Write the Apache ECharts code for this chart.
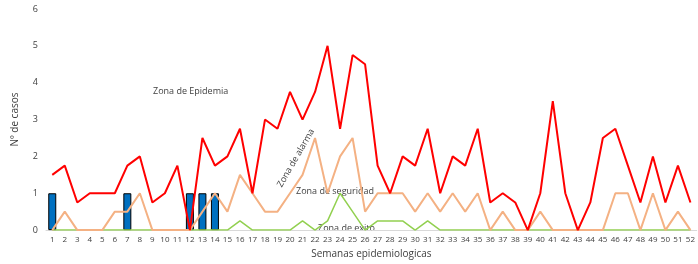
<!DOCTYPE html>
<html>
<head>
<meta charset="utf-8">
<script src="https://cdn.jsdelivr.net/npm/echarts@6/dist/echarts.min.js"></script>
<style>
  html, body { margin: 0; padding: 0; background: #fff; }
  #chart { width: 698px; height: 264px; }
</style>
</head>
<body>
<div id="chart"></div>
<script>
const weeks = Array.from({ length: 52 }, (_, i) => String(i + 1));

const casos = [1, null, null, null, null, null, 1, null, null, null, null, 1, 1, 1];

const epidemia = [1.5, 1.75, 0.75, 1, 1, 1, 1.75, 2, 0.75, 1, 1.75, 0, 2.5, 1.75, 2, 2.75,
  1, 3, 2.75, 3.75, 3, 3.75, 5, 2.75, 4.75, 4.5, 1.75, 1, 2, 1.75, 2.75, 1, 2, 1.75, 2.75,
  0.75, 1, 0.75, 0, 1, 3.5, 1, 0, 0.75, 2.5, 2.75, 1.75, 0.75, 2, 0.75, 1.75, 0.75];

const alarma = [0, 0.5, 0, 0, 0, 0.5, 0.5, 1, 0, 0, 0, 0, 0.5, 1, 0.5, 1.5, 1, 0.5, 0.5, 1,
  1.5, 2.5, 1, 2, 2.5, 0.5, 1, 1, 1, 0.5, 1, 0.5, 1, 0.5, 1, 0, 0.5, 0, 0, 0.5, 0, 0, 0, 0,
  0, 1, 1, 0, 1, 0, 0.5, 0];

const seguridad = [0, 0, 0, 0, 0, 0, 0, 0, 0, 0, 0, 0, 0, 0, 0, 0.25, 0, 0, 0, 0, 0.25, 0,
  0.25, 1, 0.5, 0, 0.25, 0.25, 0.25, 0, 0.25, 0, 0, 0, 0, 0, 0, 0, 0, 0, 0, 0, 0, 0, 0, 0,
  0, 0, 0, 0, 0, 0];

const yTicks = [0, 1, 2, 3, 4, 5, 6];

const font = 'Open Sans, sans-serif';
const txt = '#404040';

const chart = echarts.init(document.getElementById('chart'));

chart.setOption({
  animation: false,
  grid: { left: 46, right: -1, top: 9, bottom: 29, containLabel: false },
  xAxis: {
    type: 'category',
    data: weeks,
    name: 'Semanas epidemiologicas',
    nameLocation: 'middle',
    nameGap: 17,
    nameTextStyle: { color: txt, fontSize: 10, fontFamily: font },
    axisLine: { lineStyle: { color: '#d9d9d9' } },
    axisTick: { show: false },
    axisLabel: { color: txt, fontSize: 8, fontFamily: font, interval: 0, margin: 6 },
  },
  yAxis: {
    type: 'value',
    min: yTicks[0],
    max: yTicks[yTicks.length - 1],
    interval: 1,
    name: 'Nº de casos',
    nameLocation: 'middle',
    nameGap: 26,
    nameTextStyle: { color: txt, fontSize: 10, fontFamily: font },
    axisLine: { show: false },
    axisTick: { show: false },
    splitLine: { show: false },
    axisLabel: { color: txt, fontSize: 9, fontFamily: font, margin: 8 },
  },
  series: [
    {
      type: 'bar',
      data: casos,
      barWidth: 8,
      itemStyle: { color: '#0070c0', borderColor: '#000', borderWidth: 1 },
      z: 1,
    },
    {
      type: 'line',
      data: seguridad,
      symbol: 'none',
      lineStyle: { color: '#92d050', width: 1.5 },
      z: 2,
    },
    {
      type: 'line',
      data: alarma,
      symbol: 'none',
      lineStyle: { color: '#f4b183', width: 2 },
      z: 3,
    },
    {
      type: 'line',
      data: epidemia,
      symbol: 'none',
      lineStyle: { color: '#ff0000', width: 2 },
      z: 4,
    },
  ],
  graphic: [
    { type: 'text', left: 153, top: 87, style: { text: 'Zona de Epidemia', fill: txt, font: '9px ' + font } },
    { type: 'text', x: 296, y: 158, rotation: Math.PI / 3, style: { text: 'Zona de alarma', fill: txt, font: '9px ' + font, align: 'center', verticalAlign: 'middle' } },
    { type: 'text', left: 296, top: 187, style: { text: 'Zona de seguridad', fill: txt, font: '9px ' + font } },
    { type: 'text', left: 318, top: 224, style: { text: 'Zona de exito', fill: txt, font: '9px ' + font } },
  ],
});
</script>
</body>
</html>
